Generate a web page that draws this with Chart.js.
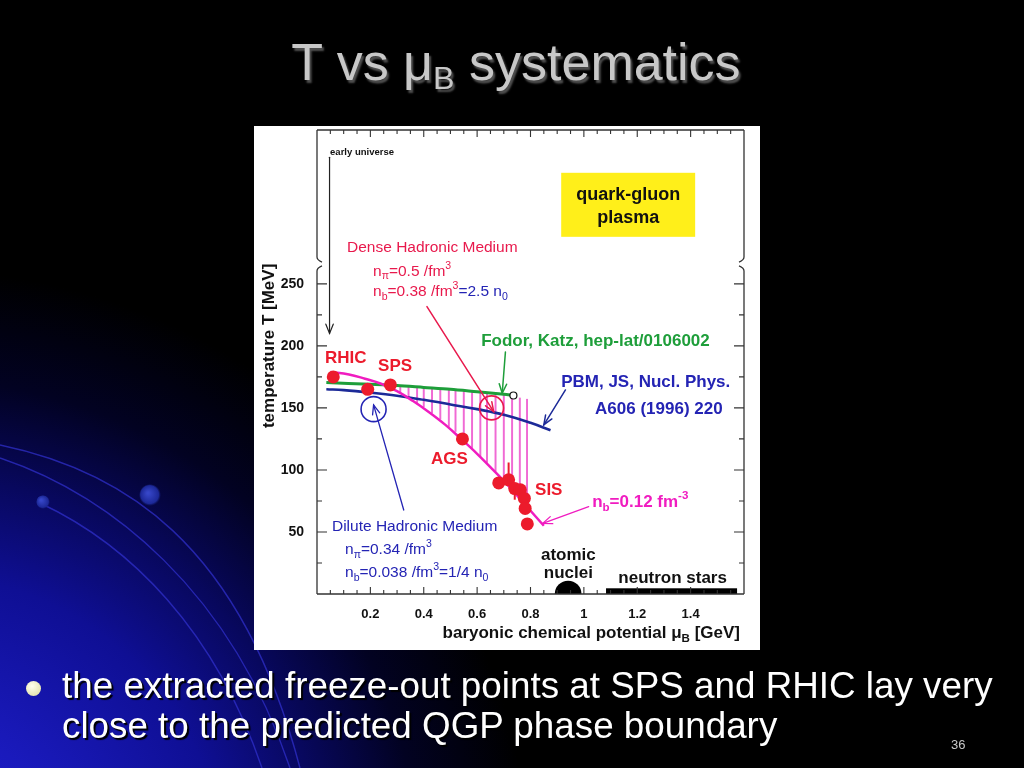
<!DOCTYPE html>
<html>
<head>
<meta charset="utf-8">
<script src="https://cdn.jsdelivr.net/npm/chart.js@4.4.1/dist/chart.umd.min.js"></script>
<style>
html,body{margin:0;padding:0;background:#000;overflow:hidden}
#stage{position:relative;width:1024px;height:768px;overflow:hidden}
#c{position:absolute;left:0;top:0}
#title{position:absolute;left:0;top:36px;width:1032px;text-align:center;font-family:'Liberation Sans',Arial,sans-serif;font-size:52px;line-height:1;color:#c8c8c8;text-shadow:2px 3px 2px #505050;white-space:nowrap}
#title sub{font-size:0.62em;vertical-align:-0.28em;line-height:0}
.line{position:absolute;left:62px;font-family:'Liberation Sans',Arial,sans-serif;font-size:36px;line-height:1;color:#fff;text-shadow:2px 2px 1px #000;white-space:nowrap}
#dot{position:absolute;left:26px;top:681px;width:15px;height:15px;border-radius:50%;background:radial-gradient(circle at 40% 35%,#ffffee,#dcdc9c)}
#num{position:absolute;left:951px;top:737px;font:13px 'Liberation Sans',Arial,sans-serif;color:#c8c8c8}
</style>
</head>
<body>
<div id="stage">
<canvas id="c" width="1024" height="768"></canvas>
<div id="title">T vs μ<sub>B</sub> systematics</div>
<div id="dot"></div>
<div class="line" id="l1">the extracted freeze-out points at SPS and RHIC lay very</div>
<div class="line" id="l2">close to the predicted QGP phase boundary</div>
<div id="num">36</div>
</div>
<script>
// ---------------- data ----------------
const freezeMu = [0.061, 0.19, 0.275, 0.545, 0.681, 0.718, 0.741, 0.762, 0.777, 0.78, 0.788];
const freezeT  = [175, 165, 168.5, 125, 89.5, 92, 85, 84, 77, 69, 56.5];
const errMu    = [0.718, 0.741];
const errLow   = [89, 76];
const errHigh  = [106, 87];

const magentaMu = [0.05, 0.12, 0.18, 0.24, 0.30, 0.36, 0.42, 0.48, 0.54, 0.60, 0.66, 0.72, 0.78, 0.85];
const magentaT  = [179, 177, 173.5, 169.5, 163.5, 155.5, 146.5, 136.5, 125, 113, 100, 86.5, 72, 55];

const greenMu = [0.035, 0.2, 0.3, 0.4, 0.5, 0.6, 0.7, 0.735];
const greenT  = [170.5, 169, 168, 166.5, 165, 163, 161, 160];

const blueMu = [0.035, 0.1, 0.2, 0.3, 0.4, 0.5, 0.6, 0.7, 0.8, 0.875];
const blueT  = [165, 164.3, 162.3, 159.8, 156.5, 152.8, 149, 144.5, 138, 132];

const hatchMu   = [0.312, 0.343, 0.375, 0.40, 0.431, 0.462, 0.494, 0.519, 0.55, 0.581, 0.612, 0.637, 0.669, 0.70, 0.731, 0.76, 0.787];
const hatchLow  = [162.5, 158.5, 154, 151, 146, 141, 135, 131, 125, 118, 111, 106, 99, 91, 83, 77, 70];
const hatchHigh = [167.5, 167, 166.5, 166, 165.5, 165, 164.5, 164, 163.5, 163, 162.5, 162, 161.5, 161, 160, 158, 157];

const denseCircleMu = [0.654];  const denseCircleT = [150];
const diluteCircleMu = [0.212]; const diluteCircleT = [149];
const greenEndMu = [0.736];     const greenEndT = [160];
const nucleiMu = [0.941];       const nucleiT = [0];
const nucleiRadiusMu = [0.05];
const nstarMu = [1.083, 1.574]; const nstarT = [0, 4.6];

const xTickValues = [0.2, 0.4, 0.6, 0.8, 1, 1.2, 1.4];
const yTickValues = [50, 100, 150, 200, 250];
const xMinorStep = 0.05;
const yMinorStep = 25;

// ---------------- helpers ----------------
const FAM = "'Liberation Sans', Arial, Helvetica, sans-serif";
const pts = (xs, ys) => xs.map((x, i) => ({x, y: ys[i]}));

const RED = '#ec1b2c', DRED = '#e8194c', MAG = '#f01cc0', GRN = '#1e9e3a', BLU = '#1c2a98', TBLU = '#2424b4';

function rich(ctx, x, y, segs, size, weight, color, align) {
  let w = 0;
  const parts = segs.map(s => {
    const p = (typeof s === 'string') ? {t: s} : Object.assign({}, s);
    p.sz = p.m ? size * 0.68 : size;
    ctx.font = weight + ' ' + p.sz + 'px ' + FAM;
    p.ww = ctx.measureText(p.t).width;
    w += p.ww;
    return p;
  });
  let cx = align === 'center' ? x - w / 2 : (align === 'right' ? x - w : x);
  ctx.textAlign = 'left';
  ctx.textBaseline = 'middle';
  parts.forEach(p => {
    ctx.font = weight + ' ' + p.sz + 'px ' + FAM;
    ctx.fillStyle = p.c || color;
    const dy = p.m === 'sub' ? size * 0.32 : (p.m === 'sup' ? -size * 0.36 : 0);
    ctx.fillText(p.t, cx, y + dy);
    cx += p.ww;
  });
}

function arrow(ctx, x1, y1, x2, y2, color, w, head) {
  ctx.save();
  ctx.strokeStyle = color; ctx.lineWidth = w; ctx.lineCap = 'round';
  ctx.beginPath(); ctx.moveTo(x1, y1); ctx.lineTo(x2, y2); ctx.stroke();
  const a = Math.atan2(y2 - y1, x2 - x1), sp = 0.38;
  ctx.beginPath();
  ctx.moveTo(x2 - head * Math.cos(a - sp), y2 - head * Math.sin(a - sp));
  ctx.lineTo(x2, y2);
  ctx.lineTo(x2 - head * Math.cos(a + sp), y2 - head * Math.sin(a + sp));
  ctx.stroke();
  ctx.restore();
}

// annotations (positions in data units)
const notes = [
  {mu: 0.049, T: 355.6, segs: ['early universe'], size: 9.5, weight: 'bold', color: '#111', align: 'left'},
  {mu: 1.166, T: 321.8, segs: ['quark-gluon'], size: 18, weight: 'bold', color: '#111', align: 'center'},
  {mu: 1.166, T: 303.2, segs: ['plasma'], size: 18, weight: 'bold', color: '#111', align: 'center'},
  {mu: 0.1125, T: 279, segs: ['Dense Hadronic Medium'], size: 15.5, weight: 'normal', color: DRED, align: 'left'},
  {mu: 0.21, T: 260, segs: ['n', {t: 'π', m: 'sub'}, '=0.5 /fm', {t: '3', m: 'sup'}], size: 15.5, weight: 'normal', color: DRED, align: 'left'},
  {mu: 0.21, T: 243.5, segs: ['n', {t: 'b', m: 'sub'}, '=0.38 /fm', {t: '3', m: 'sup'}, {t: '=2.5 n', c: TBLU}, {t: '0', m: 'sub', c: TBLU}], size: 15.5, weight: 'normal', color: DRED, align: 'left'},
  {mu: 0.615, T: 204, segs: ['Fodor, Katz, hep-lat/0106002'], size: 17, weight: 'bold', color: GRN, align: 'left'},
  {mu: 0.915, T: 171, segs: ['PBM, JS, Nucl. Phys.'], size: 17, weight: 'bold', color: TBLU, align: 'left'},
  {mu: 1.042, T: 149.2, segs: ['A606 (1996) 220'], size: 17, weight: 'bold', color: TBLU, align: 'left'},
  {mu: 0.03, T: 190.3, segs: ['RHIC'], size: 17, weight: 'bold', color: RED, align: 'left'},
  {mu: 0.229, T: 183.9, segs: ['SPS'], size: 17, weight: 'bold', color: RED, align: 'left'},
  {mu: 0.4275, T: 108.9, segs: ['AGS'], size: 17, weight: 'bold', color: RED, align: 'left'},
  {mu: 0.817, T: 83.9, segs: ['SIS'], size: 17, weight: 'bold', color: RED, align: 'left'},
  {mu: 1.031, T: 74.2, segs: ['n', {t: 'b', m: 'sub'}, '=0.12 fm', {t: '-3', m: 'sup'}], size: 17, weight: 'bold', color: MAG, align: 'left'},
  {mu: 0.056, T: 54.3, segs: ['Dilute Hadronic Medium'], size: 15.5, weight: 'normal', color: TBLU, align: 'left'},
  {mu: 0.105, T: 35.5, segs: ['n', {t: 'π', m: 'sub'}, '=0.34 /fm', {t: '3', m: 'sup'}], size: 15.5, weight: 'normal', color: TBLU, align: 'left'},
  {mu: 0.105, T: 17, segs: ['n', {t: 'b', m: 'sub'}, '=0.038 /fm', {t: '3', m: 'sup'}, '=1/4 n', {t: '0', m: 'sub'}], size: 15.5, weight: 'normal', color: TBLU, align: 'left'},
  {mu: 0.942, T: 31.5, segs: ['atomic'], size: 17, weight: 'bold', color: '#111', align: 'center'},
  {mu: 0.942, T: 16.7, segs: ['nuclei'], size: 17, weight: 'bold', color: '#111', align: 'center'},
  {mu: 1.129, T: 12.6, segs: ['neutron stars'], size: 17, weight: 'bold', color: '#111', align: 'left'}
];

const arrows = [
  {from: [0.047, 352], to: [0.047, 210], color: '#222', w: 1.2, head: 10},
  {from: [0.412, 231.7], to: [0.662, 147], color: DRED, w: 1.5, head: 10},
  {from: [0.706, 195], to: [0.694, 161.8], color: GRN, w: 1.5, head: 10},
  {from: [0.931, 164.5], to: [0.85, 136.3], color: BLU, w: 1.5, head: 10},
  {from: [0.325, 67.7], to: [0.212, 152.4], color: TBLU, w: 1.3, head: 10},
  {from: [1.018, 70.4], to: [0.846, 57], color: MAG, w: 1.3, head: 10}
];

const qgpBox = {mu0: 0.915, mu1: 1.417, T0: 339.5, T1: 287.9};
const yBreak = [262, 270];

// ---------------- plugins ----------------
const slideBg = {
  id: 'slideBg',
  beforeDraw(chart) {
    const ctx = chart.ctx;
    ctx.save();
    ctx.fillStyle = '#000';
    ctx.fillRect(0, 0, 1024, 768);
    const g = ctx.createRadialGradient(-80, 880, 0, -80, 880, 610);
    g.addColorStop(0, '#2222dc');
    g.addColorStop(0.25, '#1a1abc');
    g.addColorStop(0.5, '#0f0f94');
    g.addColorStop(0.66, '#08085e');
    g.addColorStop(0.82, '#020222');
    g.addColorStop(1, 'rgba(0,0,0,1)');
    ctx.fillStyle = g;
    ctx.fillRect(0, 0, 1024, 768);
    ctx.strokeStyle = 'rgba(50,50,210,0.7)';
    ctx.lineWidth = 1.4;
    ctx.beginPath(); ctx.moveTo(0, 445); ctx.bezierCurveTo(120, 470, 240, 540, 300, 768); ctx.stroke();
    ctx.beginPath(); ctx.moveTo(0, 458); ctx.bezierCurveTo(110, 495, 230, 590, 290, 768); ctx.stroke();
    ctx.beginPath(); ctx.moveTo(40, 503); ctx.bezierCurveTo(130, 545, 215, 630, 262, 768); ctx.stroke();
    [[150, 495, 11], [43, 502, 7]].forEach(([x, y, r]) => {
      const b = ctx.createRadialGradient(x - 2, y - 2, 1, x, y, r);
      b.addColorStop(0, '#3646c8'); b.addColorStop(0.8, '#1c2898'); b.addColorStop(1, 'rgba(20,30,120,0)');
      ctx.fillStyle = b; ctx.beginPath(); ctx.arc(x, y, r, 0, Math.PI * 2); ctx.fill();
    });
    ctx.fillStyle = '#fff';
    ctx.fillRect(254, 126, 506, 524);
    ctx.restore();
  }
};

const overlay = {
  id: 'overlay',
  beforeDatasetsDraw(chart) {
    const ctx = chart.ctx, xs = chart.scales.x, ys = chart.scales.y;
    const X = v => xs.getPixelForValue(v), Y = v => ys.getPixelForValue(v);
    ctx.save();
    ctx.fillStyle = '#000';
    // atomic nuclei: half disk on the axis
    nucleiMu.forEach((m, i) => {
      const r = X(m + nucleiRadiusMu[i]) - X(m);
      ctx.beginPath(); ctx.arc(X(m), Y(nucleiT[i]), r, Math.PI, 0); ctx.closePath(); ctx.fill();
    });
    // neutron stars band
    ctx.fillRect(X(nstarMu[0]), Y(nstarT[1]), X(nstarMu[1]) - X(nstarMu[0]), Y(nstarT[0]) - Y(nstarT[1]));
    ctx.restore();
  },
  afterDatasetsDraw(chart) {
    const ctx = chart.ctx, xs = chart.scales.x, ys = chart.scales.y;
    const {left, right, top, bottom} = chart.chartArea;
    const X = v => xs.getPixelForValue(v), Y = v => ys.getPixelForValue(v);
    ctx.save();
    // error bars
    ctx.strokeStyle = RED; ctx.lineWidth = 2;
    errMu.forEach((m, i) => {
      ctx.beginPath(); ctx.moveTo(X(m), Y(errLow[i])); ctx.lineTo(X(m), Y(errHigh[i])); ctx.stroke();
    });
    // frame
    ctx.strokeStyle = '#333'; ctx.lineWidth = 1.3;
    const yb0 = Y(yBreak[0]), yb1 = Y(yBreak[1]);
    ctx.beginPath();
    ctx.moveTo(left, top); ctx.lineTo(right, top);
    ctx.moveTo(left, bottom); ctx.lineTo(right, bottom);
    ctx.moveTo(left, bottom); ctx.lineTo(left, yb0 + 2); ctx.quadraticCurveTo(left, yb0 - 1, left + 5, yb0 - 3);
    ctx.moveTo(left, top); ctx.lineTo(left, yb1 - 2); ctx.quadraticCurveTo(left, yb1 + 1, left + 5, yb1 + 3);
    ctx.moveTo(right, bottom); ctx.lineTo(right, yb0 + 2); ctx.quadraticCurveTo(right, yb0 - 1, right - 5, yb0 - 3);
    ctx.moveTo(right, top); ctx.lineTo(right, yb1 - 2); ctx.quadraticCurveTo(right, yb1 + 1, right - 5, yb1 + 3);
    ctx.stroke();
    // inward ticks
    ctx.lineWidth = 1.1;
    ctx.beginPath();
    for (let k = 1; k * xMinorStep < xs.max - 1e-9; k++) {
      const v = k * xMinorStep, major = (k % 4 === 0), len = major ? 7 : 4, px = X(v);
      ctx.moveTo(px, bottom); ctx.lineTo(px, bottom - len);
      ctx.moveTo(px, top); ctx.lineTo(px, top + len);
    }
    for (let k = 1; k * yMinorStep <= yTickValues[yTickValues.length - 1]; k++) {
      const v = k * yMinorStep, major = (k % 2 === 0), len = major ? 10 : 5, py = Y(v);
      ctx.moveTo(left, py); ctx.lineTo(left + len, py);
      ctx.moveTo(right, py); ctx.lineTo(right - len, py);
    }
    ctx.stroke();
    // yellow box
    ctx.fillStyle = '#ffef1a';
    ctx.fillRect(X(qgpBox.mu0), Y(qgpBox.T0), X(qgpBox.mu1) - X(qgpBox.mu0), Y(qgpBox.T1) - Y(qgpBox.T0));
    // arrows
    arrows.forEach(a => arrow(ctx, X(a.from[0]), Y(a.from[1]), X(a.to[0]), Y(a.to[1]), a.color, a.w, a.head));
    // texts
    notes.forEach(n => rich(ctx, X(n.mu), Y(n.T), n.segs, n.size, n.weight, n.color, n.align));
    // axis titles
    rich(ctx, right - 4, bottom + 39, ['baryonic chemical potential μ', {t: 'B', m: 'sub'}, ' [GeV]'], 17, 'bold', '#111', 'right');
    ctx.save();
    ctx.translate(left - 48, Y(200));
    ctx.rotate(-Math.PI / 2);
    rich(ctx, 0, 0, ['temperature T [MeV]'], 17, 'bold', '#111', 'center');
    ctx.restore();
    ctx.restore();
  }
};

// ---------------- chart ----------------
new Chart(document.getElementById('c'), {
  type: 'scatter',
  data: {
    datasets: [
      {label: 'freeze-out', data: pts(freezeMu, freezeT), showLine: false, pointRadius: 6.5, pointBackgroundColor: RED, pointBorderWidth: 0, order: 0},
      {label: 'dense', data: pts(denseCircleMu, denseCircleT), showLine: false, pointRadius: 12, pointBackgroundColor: 'rgba(0,0,0,0)', pointBorderColor: DRED, pointBorderWidth: 1.6, order: 1},
      {label: 'dilute', data: pts(diluteCircleMu, diluteCircleT), showLine: false, pointRadius: 12.5, pointBackgroundColor: 'rgba(0,0,0,0)', pointBorderColor: TBLU, pointBorderWidth: 1.6, order: 1},
      {label: 'green end', data: pts(greenEndMu, greenEndT), showLine: false, pointRadius: 3.5, pointBackgroundColor: '#fff', pointBorderColor: '#111', pointBorderWidth: 1.2, order: 1},
      {label: 'nb=0.12', data: pts(magentaMu, magentaT), showLine: true, borderColor: MAG, borderWidth: 2.5, pointRadius: 0, tension: 0.4, order: 2},
      {label: 'Fodor Katz', data: pts(greenMu, greenT), showLine: true, borderColor: GRN, borderWidth: 3, pointRadius: 0, tension: 0.3, order: 3},
      {label: 'PBM', data: pts(blueMu, blueT), showLine: true, borderColor: BLU, borderWidth: 2.6, pointRadius: 0, tension: 0.4, order: 4},
      {type: 'bar', label: 'hatch', data: hatchMu.map((m, i) => ({x: m, y: [hatchLow[i], hatchHigh[i]]})), backgroundColor: '#f06ad4', borderWidth: 0, barThickness: 1.3, grouped: false, order: 10}
    ]
  },
  options: {
    responsive: false,
    animation: false,
    events: [],
    layout: {padding: {left: 253, right: 280, top: 130, bottom: 117}},
    plugins: {legend: {display: false}, tooltip: {enabled: false}},
    scales: {
      x: {
        type: 'linear', min: 0, max: 1.6, offset: false,
        border: {display: false}, grid: {display: false, offset: false},
        afterBuildTicks: s => { s.ticks = xTickValues.map(v => ({value: v})); },
        afterFit: s => { s.height = 57; },
        ticks: {autoSkip: false, maxRotation: 0, padding: 5, color: '#111', font: {family: FAM, size: 13, weight: 'bold'}, callback: v => String(v)}
      },
      y: {
        type: 'linear', min: 0, max: 374,
        border: {display: false}, grid: {display: false},
        afterBuildTicks: s => { s.ticks = yTickValues.map(v => ({value: v})); },
        afterFit: s => { s.width = 64; },
        ticks: {autoSkip: false, padding: 5, color: '#111', font: {family: FAM, size: 14, weight: 'bold'}, callback: v => String(v)}
      }
    }
  },
  plugins: [slideBg, overlay]
});

// fit bullet text width to the slide
(function () {
  const l1 = document.getElementById('l1'), l2 = document.getElementById('l2');
  const w = l1.getBoundingClientRect().width;
  const s = 36 * 931 / w;
  [l1, l2].forEach(el => el.style.fontSize = s + 'px');
  l1.style.top = (699 - 0.8465 * s) + 'px';
  l2.style.top = (739 - 0.8465 * s) + 'px';
})();
</script>
</body>
</html>
